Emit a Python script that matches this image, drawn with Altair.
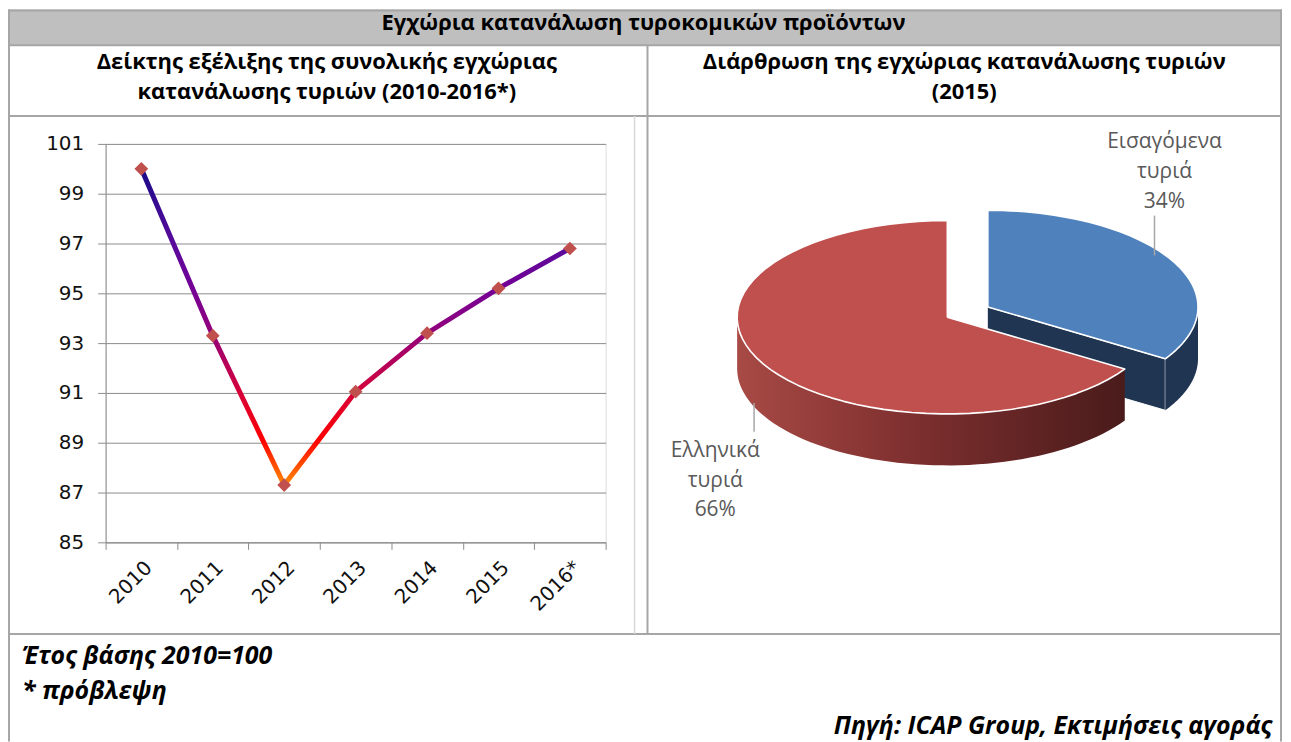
import altair as alt
import pandas as pd

# ---------------- data ----------------
years = ["2010", "2011", "2012", "2013", "2014", "2015", "2016*"]
index_values = [100.0, 93.3, 87.3, 91.05, 93.4, 95.2, 96.8]
y_ticks = [85, 87, 89, 91, 93, 95, 97, 99, 101]

slice_labels = ["Εισαγόμενα τυριά", "Ελληνικά τυριά"]
slice_shares = [34, 66]

title_text = "Εγχώρια κατανάλωση τυροκομικών προϊόντων"
left_subtitle = ["Δείκτης εξέλιξης της συνολικής εγχώριας", "κατανάλωσης τυριών (2010-2016*)"]
right_subtitle = ["Διάρθρωση της εγχώριας κατανάλωσης τυριών", "(2015)"]
footnotes = ["Έτος βάσης 2010=100", "* πρόβλεψη"]
source_text = "Πηγή: ICAP Group, Εκτιμήσεις αγοράς"

# ---------------- styles ----------------
GRID = "#8c8c8c"
BORDER = "#a6a6a6"
HEAD_FONT = "Open Sans"
AXIS_FONT = "DejaVu Sans"
BLUE_TOP = "#4f81bd"
BLUE_SIDE = "#1f3552"
RED_TOP = "#c0504d"
MARKER = "#c0504d"
W, H = 502, 400

RY = 0.46      # ellipse squash of 3D pie
DEPTH = 0.245  # pie thickness
EXPLODE = 0.22
N = 60

one = pd.DataFrame({"v": [0]})


def hrule(y, x0, x1, color=BORDER, w=2):
    return alt.Chart(one).mark_rule(color=color, strokeWidth=w).encode(
        x=alt.value(x0), x2=alt.value(x1), y=alt.value(y))


def vrule(x, y0, y1, color=BORDER, w=2):
    return alt.Chart(one).mark_rule(color=color, strokeWidth=w).encode(
        x=alt.value(x), y=alt.value(y0), y2=alt.value(y1))


def box(x0, x1, y0, y1, color):
    return alt.Chart(one).mark_rect(color=color).encode(
        x=alt.value(x0), x2=alt.value(x1), y=alt.value(y0), y2=alt.value(y1))


def label(txt, x, y, **kw):
    return alt.Chart(one).mark_text(text=txt, **kw).encode(x=alt.value(x), y=alt.value(y))


# ---------------- line chart ----------------
line_df = pd.DataFrame({"year": years, "value": index_values})
xenc = alt.X("year:O", sort=years,
             scale=alt.Scale(type="band", paddingInner=0, paddingOuter=0),
             axis=alt.Axis(title=None, labelAngle=-45, tickBand="extent", grid=False,
                           domainColor=GRID, tickColor=GRID, tickSize=7,
                           labelFont=AXIS_FONT, labelFontSize=20, labelColor="#111111",
                           labelPadding=8))
yenc = alt.Y("value:Q", scale=alt.Scale(domain=[85, 101], nice=False, zero=False),
             axis=alt.Axis(title=None, values=y_ticks, grid=True, gridColor=GRID,
                           domainColor=GRID, tickColor=GRID, tickSize=8, labelPadding=14,
                           labelFont=AXIS_FONT, labelFontSize=20, labelColor="#111111"))

line_grad = alt.Gradient(
    gradient="linear", x1=0, x2=0, y1=0, y2=1,
    stops=[alt.GradientStop(offset=0.0, color="#1a0a88"),
           alt.GradientStop(offset=0.24, color="#5a0a9c"),
           alt.GradientStop(offset=0.39, color="#760094"),
           alt.GradientStop(offset=0.53, color="#960078"),
           alt.GradientStop(offset=0.70, color="#d4003c"),
           alt.GradientStop(offset=0.86, color="#ff0000"),
           alt.GradientStop(offset=1.0, color="#ff8c00")])

line = alt.Chart(line_df).mark_line(stroke=line_grad, strokeWidth=5).encode(x=xenc, y=yenc)
pts = alt.Chart(line_df).mark_point(shape="diamond", filled=True, size=190, color=MARKER,
                                    opacity=1).encode(x=xenc, y=yenc)
line_group = alt.layer(line, pts)

# ---------------- 3D pie ----------------
pie_df = pd.DataFrame({"label": slice_labels, "share": slice_shares})
px_enc = alt.X("px:Q", scale=alt.Scale(domain=[0, 1], range=[845, 1056], nice=False, zero=False),
               axis=None)
py_enc = alt.Y("py:Q", scale=alt.Scale(domain=[0, 1], range=[174, -37], nice=False, zero=False),
               axis=None)


def pie_base(lbl):
    return (alt.Chart(pie_df)
            .transform_joinaggregate(total="sum(share)")
            .transform_window(cum="sum(share)", frame=[None, 0])
            .transform_calculate(a0="2*PI*(datum.cum-datum.share)/datum.total",
                                 a1="2*PI*datum.cum/datum.total")
            .transform_calculate(mid="(datum.a0+datum.a1)/2",
                                 ex=f"datum.label == '{slice_labels[0]}' ? {EXPLODE} : 0",
                                 f0="max(datum.a0, PI/2)",
                                 f1="min(datum.a1, 3*PI/2)")
            .transform_calculate(ox="datum.ex*sin(datum.mid)",
                                 oy=f"datum.ex*{RY}*cos(datum.mid)")
            .transform_filter(f"datum.label == '{lbl}'"))


def pie_top(lbl, color):
    return (pie_base(lbl)
            .transform_calculate(k=f"sequence(-1, {N + 2})")
            .transform_flatten(["k"])
            .transform_calculate(ang=f"datum.a0 + (datum.a1-datum.a0)*datum.k/{N}",
                                 edge=f"(datum.k >= 0 && datum.k <= {N}) ? 1 : 0")
            .transform_calculate(px="datum.ox + datum.edge*sin(datum.ang)",
                                 py=f"datum.oy + datum.edge*{RY}*cos(datum.ang)")
            .mark_line(filled=True, fill=color, stroke="white", strokeWidth=1.6,
                       strokeJoin="round")
            .encode(x=px_enc, y=py_enc, order="k:Q"))


def pie_wall(lbl, fill):
    return (pie_base(lbl)
            .transform_filter("datum.f1 > datum.f0")
            .transform_calculate(k=f"sequence(0, {2 * N + 2})")
            .transform_flatten(["k"])
            .transform_calculate(t=f"datum.k <= {N} ? datum.k/{N} : ({2 * N + 1}-datum.k)/{N}",
                                 bot=f"datum.k > {N} ? 1 : 0")
            .transform_calculate(ang="datum.f0 + (datum.f1-datum.f0)*datum.t")
            .transform_calculate(px="datum.ox + sin(datum.ang)",
                                 py=f"datum.oy + {RY}*cos(datum.ang) - {DEPTH}*datum.bot")
            .mark_line(filled=True, fill=fill, strokeOpacity=0)
            .encode(x=px_enc, y=py_enc, order="k:Q"))


def pie_face(lbl, fill):
    # radial cut face at the end angle of the slice
    return (pie_base(lbl)
            .transform_calculate(k="sequence(0, 4)")
            .transform_flatten(["k"])
            .transform_calculate(edge="(datum.k == 1 || datum.k == 2) ? 1 : 0",
                                 bot="datum.k >= 2 ? 1 : 0")
            .transform_calculate(px="datum.ox + datum.edge*sin(datum.a1)",
                                 py=f"datum.oy + datum.edge*{RY}*cos(datum.a1) - {DEPTH}*datum.bot")
            .mark_line(filled=True, fill=fill, stroke="white", strokeWidth=1)
            .encode(x=px_enc, y=py_enc, order="k:Q"))


red_wall_grad = alt.Gradient(
    gradient="linear", x1=0, x2=1, y1=0, y2=0,
    stops=[alt.GradientStop(offset=0.0, color="#a84a45"),
           alt.GradientStop(offset=0.45, color="#7e2f2f"),
           alt.GradientStop(offset=1.0, color="#4a1b1b")])

pie_group = alt.layer(
    pie_face(slice_labels[0], BLUE_SIDE),
    pie_wall(slice_labels[0], BLUE_SIDE),
    pie_top(slice_labels[0], BLUE_TOP),
    pie_wall(slice_labels[1], red_wall_grad),
    pie_top(slice_labels[1], RED_TOP),
)

pie_label_style = dict(font=HEAD_FONT, fontSize=21, color="#595959", align="center",
                       baseline="alphabetic", lineHeight=30)
blue_lbl = slice_labels[0].split(" ") + [f"{slice_shares[0]}%"]
red_lbl = slice_labels[1].split(" ") + [f"{slice_shares[1]}%"]

pie_text = alt.layer(
    vrule(1053, 72, 112, color="#a6a6a6", w=1.5),
    vrule(651, 260, 289, color="#a6a6a6", w=1.5),
    label(blue_lbl, 1063, 4, **pie_label_style),
    label(red_lbl, 612, 314, **pie_label_style),
)

# ---------------- frame / headings ----------------
head_style = dict(font=HEAD_FONT, fontSize=22, fontWeight="bold", color="#000000",
                  align="center", baseline="alphabetic")
foot_style = dict(font=HEAD_FONT, fontSize=25, fontWeight="bold", fontStyle="italic",
                  color="#000000", baseline="alphabetic")

frame = alt.layer(
    box(-98, 1181, -135, -99, "#bfbfbf"),
    hrule(-134, -98, 1181),
    hrule(-99, -98, 1181),
    hrule(-28, -98, 1181),
    hrule(492, -98, 1181),
    vrule(-97, -135, 600),
    vrule(1180, -135, 600),
    vrule(544, -99, 492),
    vrule(531, -28, 492, color="#d9d9d9", w=1.5),
    label(title_text, 540, -114, **head_style),
    label(left_subtitle[0], 222, -75, **head_style),
    label(left_subtitle[1], 222, -45, **head_style),
    label(right_subtitle[0], 862, -75, **head_style),
    label(right_subtitle[1], 862, -45, **head_style),
    label(footnotes[0], -84, 522, align="left", **foot_style),
    label(footnotes[1], -84, 557, align="left", **foot_style),
    label(source_text, 1171, 592, align="right", **foot_style),
)

chart = (alt.layer(frame, line_group, pie_group, pie_text)
         .resolve_scale(x="independent", y="independent")
         .properties(width=W, height=H,
                     padding={"left": 98, "top": 135, "right": 680, "bottom": 199},
                     autosize=alt.AutoSizeParams(type="none"))
         .configure_view(stroke=None)
         .configure(background="white"))

chart.save("out.html", embed_options={"renderer": "svg", "actions": False})
